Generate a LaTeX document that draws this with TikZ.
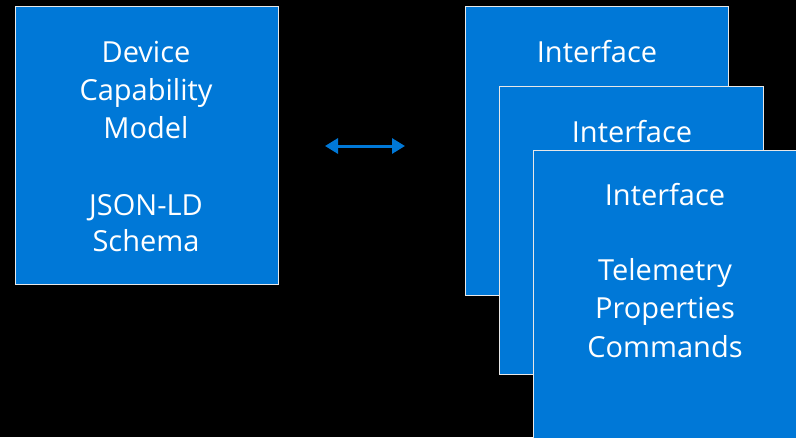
\documentclass[tikz,border=0pt]{standalone}
\usepackage{fontspec}
\setmainfont{Open Sans}
\usetikzlibrary{arrows.meta}
\definecolor{msblue}{HTML}{0078D7}
\definecolor{edge}{HTML}{E8E8E8}
\tikzset{
  card/.style={draw=edge, line width=1.2pt, fill=msblue, rectangle, inner sep=0pt, anchor=north west},
  txt/.style={text=white, anchor=base, inner sep=0pt, font=\fontsize{29}{38}\selectfont},
  link/.style={draw=msblue, line width=3pt, {Triangle[length=13pt,width=15pt]}-{Triangle[length=13pt,width=15pt]}}
}
\begin{document}
\begin{tikzpicture}[x=1pt,y=-1pt]
\fill[black] (0,0) rectangle (796,437);
\useasboundingbox (0,0) rectangle (796,437);
\clip (0,0) rectangle (796,437);
% left box
\node[card, minimum width=263pt, minimum height=278pt] (dcm) at (15,6) {};
\node[txt] (d1) at (146,62) {Device};
\node[txt] (d2) at (146,100) {Capability};
\node[txt] (d3) at (146,138) {Model};
\node[txt] (d4) at (146,215) {JSON-LD};
\node[txt] (d5) at (146,251) {Schema};
% interface stack
\node[card, minimum width=263pt, minimum height=289pt] (if1) at (465,6) {};
\node[txt] (i1) at (597,62) {Interface};
\node[card, minimum width=264pt, minimum height=288pt] (if2) at (499,86) {};
\node[txt] (i2) at (632,142) {Interface};
\node[card, minimum width=280pt, minimum height=300pt] (if3) at (533,150) {};
\node[txt] (i3) at (665,205) {Interface};
\node[txt] (i4) at (665,280) {Telemetry};
\node[txt] (i5) at (665,318) {Properties};
\node[txt] (i6) at (665,357) {Commands};
% arrow
\coordinate (al) at (325,146);
\coordinate (ar) at (405,146);
\draw[link] (al) -- (ar);
\end{tikzpicture}
\end{document}
